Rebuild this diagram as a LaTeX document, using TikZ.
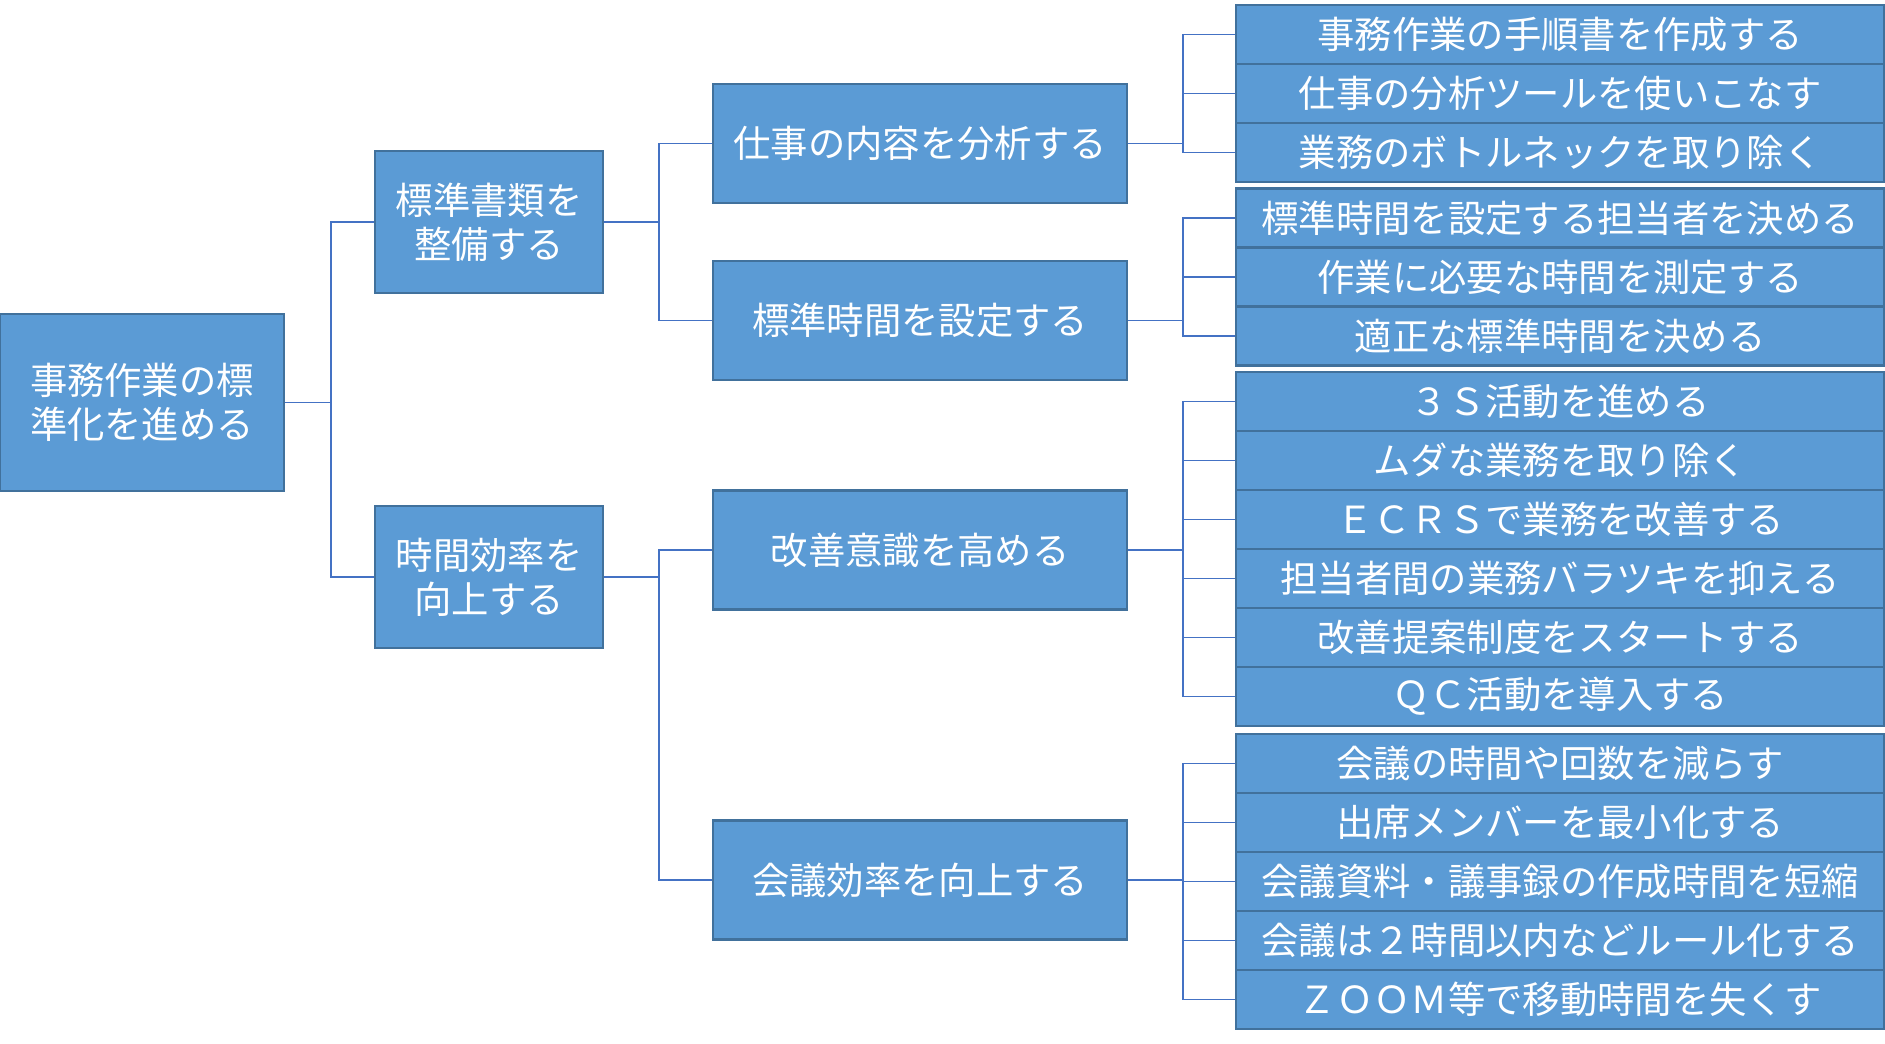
\documentclass[tikz,border=0pt]{standalone}
\usepackage{fontspec}
\newfontfamily\jpfont{Noto Sans CJK JP}
\definecolor{boxfill}{HTML}{5B9BD5}
\definecolor{boxline}{HTML}{41719C}
\definecolor{linkcol}{HTML}{4472C4}

\begin{document}
\begin{tikzpicture}[x=0.75pt,y=-0.75pt,
    box/.style={draw=boxline,fill=boxfill,line width=1.6pt,text=white,
      font=\jpfont\fontsize{28}{33}\selectfont,align=center,inner sep=0pt},
    rootbox/.style={box,minimum width=213pt,minimum height=132.75pt},
    midbox/.style={box,minimum width=171pt,minimum height=106.5pt},
    subbox/.style={box,minimum width=310.5pt,minimum height=89.25pt},
    leafbox/.style={box,minimum width=486pt,minimum height=44.25pt},
    link/.style={draw=linkcol,line width=0.9pt}]
      \useasboundingbox (0,0) rectangle (1885,1044) ;
      % root and first level
      \node[rootbox] (goal) at (142,402.5) {事務作業の標\\準化を進める} ;
      \node[midbox] (docs) at (489,222) {標準書類を\\整備する} ;
      \node[midbox] (eff) at (489,577) {時間効率を\\向上する} ;
      % second level
      \node[subbox] (analyze) at (920,143.5) {仕事の内容を分析する} ;
      \node[subbox] (stdtime) at (920,320.5) {標準時間を設定する} ;
      \node[subbox] (kaizen) at (920,550) {改善意識を高める} ;
      \node[subbox] (meeting) at (920,880) {会議効率を向上する} ;
      % leaves
      \foreach \t [count=\i] in {事務作業の手順書を作成する,
          仕事の分析ツールを使いこなす,業務のボトルネックを取り除く}
        \node[leafbox] (a\i) at (1560,{5+59*\i-29.5}) {\t} ;
      \foreach \t [count=\i] in {標準時間を設定する担当者を決める,
          作業に必要な時間を測定する,適正な標準時間を決める}
        \node[leafbox] (b\i) at (1560,{188.5+59*\i-29.5}) {\t} ;
      \foreach \t [count=\i] in {３Ｓ活動を進める,ムダな業務を取り除く,
          ＥＣＲＳで業務を改善する,担当者間の業務バラツキを抑える,
          改善提案制度をスタートする,ＱＣ活動を導入する}
        \node[leafbox] (c\i) at (1560,{372+59*\i-29.5}) {\t} ;
      \foreach \t [count=\i] in {会議の時間や回数を減らす,出席メンバーを最小化する,
          会議資料・議事録の作成時間を短縮,会議は２時間以内などルール化する,
          ＺＯＯＭ等で移動時間を失くす}
        \node[leafbox] (d\i) at (1560,{734+59*\i-29.5}) {\t} ;
      % connectors
      \foreach \c in {docs,eff}
        \draw[link] (goal.east) -- ++(46,0) |- (\c.west) ;
      \foreach \c in {analyze,stdtime}
        \draw[link] (docs.east) -- ++(55,0) |- (\c.west) ;
      \foreach \c in {kaizen,meeting}
        \draw[link] (eff.east) -- ++(55,0) |- (\c.west) ;
      \foreach \i in {1,2,3} {
        \draw[link] (analyze.east) -- ++(55,0) |- (a\i.west) ;
        \draw[link] (stdtime.east) -- ++(55,0) |- (b\i.west) ;
      }
      \foreach \i in {1,...,6}
        \draw[link] (kaizen.east) -- ++(55,0) |- (c\i.west) ;
      \foreach \i in {1,...,5}
        \draw[link] (meeting.east) -- ++(55,0) |- (d\i.west) ;
    \end{tikzpicture}
\end{document}
